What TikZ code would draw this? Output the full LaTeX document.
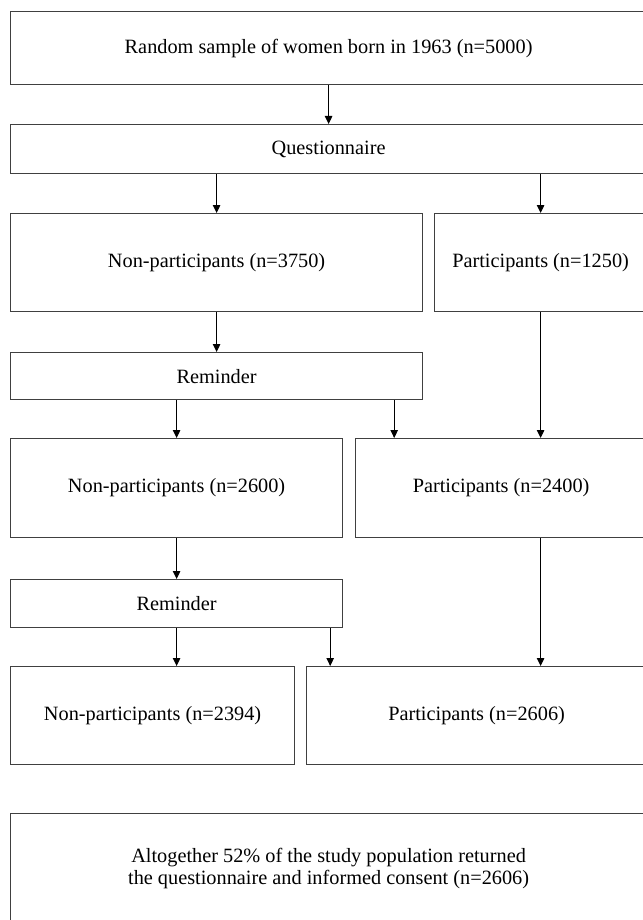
\documentclass[tikz,border=0pt]{standalone}
\usepackage{fontspec}
\setmainfont{Liberation Serif}
\usetikzlibrary{arrows.meta}

\tikzset{
  stage/.style={draw=black!75, line width=1.2pt, anchor=north west,
    inner sep=0pt, align=center, font=\fontsize{20.3}{22}\selectfont},
  arr/.style={-{Triangle[length=8pt,width=7.5pt]}, line width=0.9pt}
}

\begin{document}
\begin{tikzpicture}[x=1pt, y=-1pt]
  \useasboundingbox (0,0) rectangle (642,920);

  \node[stage, minimum width=636pt, minimum height=73pt] (sample) at (10,11)
    {Random sample of women born in 1963 (n=5000)};
  \node[stage, minimum width=636pt, minimum height=49pt] (quest) at (10,124)
    {Questionnaire};

  \node[stage, minimum width=412pt, minimum height=98pt] (np1) at (10,213)
    {Non-participants (n=3750)};
  \node[stage, minimum width=212pt, minimum height=98pt] (p1) at (434,213)
    {Participants (n=1250)};
  \node[stage, minimum width=412pt, minimum height=47pt] (rem1) at (10,352)
    {Reminder};

  \node[stage, minimum width=332pt, minimum height=99pt] (np2) at (10,438)
    {Non-participants (n=2600)};
  \node[stage, minimum width=291pt, minimum height=99pt] (p2) at (355,438)
    {Participants (n=2400)};
  \node[stage, minimum width=332pt, minimum height=48pt] (rem2) at (10,579)
    {Reminder};

  \node[stage, minimum width=284pt, minimum height=98pt] (np3) at (10,666)
    {Non-participants (n=2394)};
  \node[stage, minimum width=340pt, minimum height=98pt] (p3) at (306,666)
    {Participants (n=2606)};

  \node[stage, minimum width=636pt, minimum height=109pt] (total) at (10,813)
    {Altogether 52\% of the study population returned\\
     the questionnaire and informed consent (n=2606)};

  % arrows
  \draw[arr] (sample) -- (quest);
  \draw[arr] (quest.south -| np1.north) -- (np1.north);
  \draw[arr] (quest.south -| p1.north) -- (p1.north);
  \draw[arr] (np1) -- (rem1);
  \draw[arr] (rem1.south -| np2.north) -- (np2.north);
  \draw[arr] ([xshift=-29pt]rem1.south east) -- ([xshift=-29pt]rem1.south east |- p2.north);
  \draw[arr] (p1.south) -- (p1.south |- p2.north);
  \draw[arr] (np2) -- (rem2);
  \draw[arr] (rem2.south) -- (rem2.south |- np3.north);
  \draw[arr] ([xshift=-13pt]rem2.south east) -- ([xshift=-13pt]rem2.south east |- p3.north);
  \draw[arr] (p2.south -| p1.south) -- (p3.north -| p1.south);
\end{tikzpicture}
\end{document}
